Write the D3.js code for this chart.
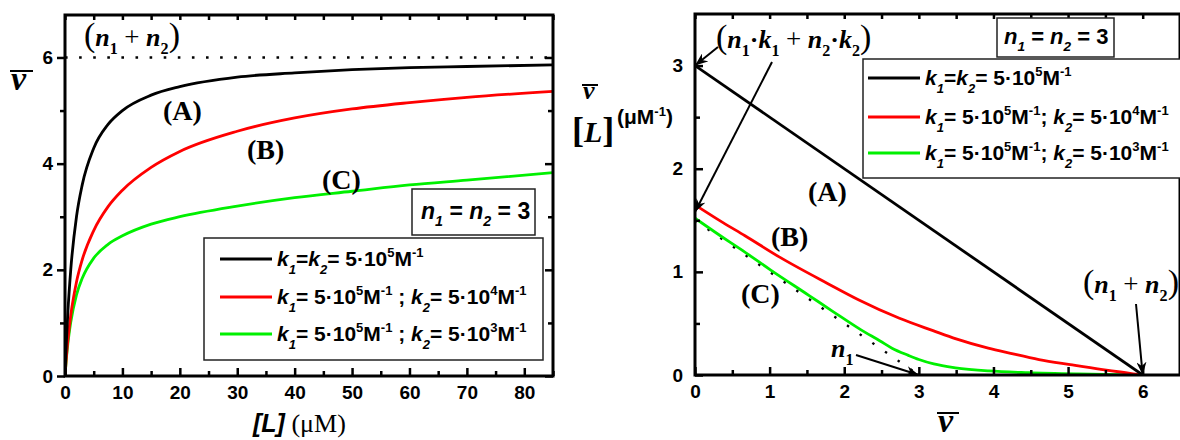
<!DOCTYPE html>
<html>
<head>
<meta charset="utf-8">
<script src="https://cdn.jsdelivr.net/npm/d3@7"></script>
<style>
body{margin:0;background:#fff;}
svg{display:block;}
text{white-space:pre;}
</style>
</head>
<body>
<svg id="chart" width="1180" height="440"></svg>
<script>
// left panel: mean number of bound ligands vs free ligand [L] (uM)
var conc = [0,0.25,0.5,1,2,3,5,7.5,10,15,20,30,40,50,60,70,85];
var satA = [0,0.67,1.2,2.0,3.0,3.6,4.29,4.74,5.0,5.29,5.45,5.63,5.71,5.77,5.81,5.83,5.86];
var satB = [0,0.37,0.67,1.14,1.77,2.19,2.74,3.19,3.5,3.93,4.23,4.61,4.86,5.03,5.15,5.25,5.36];
var satC = [0,0.34,0.61,1.01,1.53,1.84,2.22,2.48,2.64,2.86,3.0,3.2,3.36,3.48,3.6,3.69,3.83];
var satMax = 6;

// right panel: scatchard plot, nu/[L] vs nu
var scatA_nu = [0,6];
var scatA_r = [3,0];
var scatB_nu = [0,0.37,0.67,1.14,1.77,2.19,2.74,3.19,3.5,3.93,4.23,4.61,5.03,5.44,5.70,5.87,6];
var scatB_r = [1.65,1.48,1.35,1.14,0.89,0.73,0.55,0.43,0.35,0.26,0.21,0.15,0.10,0.054,0.029,0.012,0];
var scatC_nu = [0,0.34,0.61,1.01,1.53,1.84,2.22,2.48,2.64,2.86,3.0,3.2,3.49,3.94,4.47,5.13,5.49,5.81,6];
var scatC_r = [1.52,1.35,1.22,1.02,0.77,0.62,0.44,0.33,0.26,0.19,0.15,0.107,0.070,0.039,0.022,0.010,0.0055,0.0019,0];
var site1_nu = [0,3];
var site1_r = [1.5,0];

var xTicksL = [0,10,20,30,40,50,60,70,80];
var yTicksL = [0,2,4,6];
var xTicksR = [0,1,2,3,4,5,6];
var yTicksR = [0,1,2,3];

var colors = {A:'#000000', B:'#ff0000', C:'#00f000'};

var SANS = '"Liberation Sans", Arial, sans-serif';
var SERIF = '"Liberation Serif", "Times New Roman", serif';
var fmt = d3.format('d');

var svg = d3.select('#chart');

var defs = svg.append('defs');
defs.append('marker').attr('id','arr')
	.attr('markerUnits','userSpaceOnUse')
	.attr('markerWidth',14).attr('markerHeight',10)
	.attr('refX',13).attr('refY',5).attr('orient','auto')
	.append('path').attr('d','M0,0 L13,5 L0,10 L4,5 Z').attr('fill','#000');

// rich text with italic / sub / sup parts
function rich(g, x, y, parts, o){
	var t = g.append('text').attr('x',x).attr('y',y)
		.attr('font-family',o.f).attr('font-size',o.s)
		.attr('font-weight',o.w||'bold');
	var shift = 0;
	parts.forEach(function(p){
		if(typeof p==='string') p={t:p};
		var fs = p.fs || ((p.d||p.u) ? o.s*0.62 : o.s);
		var target = p.d ? o.s*(o.sub||0.33) : (p.u ? -o.s*(o.sup||0.42) : 0);
		var sp = t.append('tspan').attr('dy',target-shift).attr('font-size',fs).text(p.t);
		shift = target;
		if(p.i) sp.attr('font-style','italic');
		if(p.w) sp.attr('font-weight',p.w);
		if(p.f) sp.attr('font-family',p.f);
	});
	return t;
}

function pairs(xs, ys){ return xs.map(function(v,i){ return [v, ys[i]]; }); }

function frame(g, x, y){
	var xr = x.range(), yr = y.range();
	g.append('rect')
		.attr('x',xr[0]).attr('y',yr[1])
		.attr('width',xr[1]-xr[0]).attr('height',yr[0]-yr[1])
		.attr('fill','none').attr('stroke','#000').attr('stroke-width',3);
}

function styleAxis(a){
	a.select('.domain').remove();
	a.selectAll('line').attr('stroke','#000').attr('stroke-width',2.5);
	a.selectAll('text').attr('font-family',SANS).attr('font-weight','bold')
		.attr('font-size',19).attr('fill','#000');
}

function ticksOnly(a){ a.selectAll('text').remove(); }

function range(a,b,step){ var r=[]; for(var v=a; v<=b+1e-9; v+=step) r.push(+v.toFixed(3)); return r; }

// ---------------- left panel ----------------
var xL = d3.scaleLinear().domain([0,85]).range([65,553]);
var yL = d3.scaleLinear().domain([0,6.8]).range([376,15]);
var gL = svg.append('g');

defs.append('clipPath').attr('id','clipL').append('rect')
	.attr('x',65).attr('y',15).attr('width',488).attr('height',361);

// dotted saturation level
gL.append('line')
	.attr('x1',xL(0)).attr('x2',xL(85)).attr('y1',yL(satMax)).attr('y2',yL(satMax))
	.attr('stroke','#000').attr('stroke-width',2.6).attr('stroke-dasharray','2.6 11.5');

var lineL = d3.line().x(function(d){return xL(d[0]);}).y(function(d){return yL(d[1]);})
	.curve(d3.curveMonotoneX);
[[satC,colors.C],[satB,colors.B],[satA,colors.A]].forEach(function(s){
	gL.append('path').datum(pairs(conc,s[0]))
		.attr('clip-path','url(#clipL)')
		.attr('d',lineL).attr('fill','none').attr('stroke',s[1]).attr('stroke-width',2.8);
});

var axB = gL.append('g').attr('transform','translate(0,376)')
	.call(d3.axisBottom(xL).tickValues(xTicksL).tickFormat(fmt).tickSize(-8).tickPadding(10));
styleAxis(axB);
var axBm = gL.append('g').attr('transform','translate(0,376)')
	.call(d3.axisBottom(xL).tickValues(range(5,85,10)).tickSize(-5));
styleAxis(axBm); ticksOnly(axBm);
var axT = gL.append('g').attr('transform','translate(0,15)')
	.call(d3.axisTop(xL).tickValues(range(0,85,5)).tickSize(-5));
styleAxis(axT); ticksOnly(axT);
var axLf = gL.append('g').attr('transform','translate(65,0)')
	.call(d3.axisLeft(yL).tickValues(yTicksL).tickFormat(fmt).tickSize(8).tickPadding(4));
styleAxis(axLf);
var axLfm = gL.append('g').attr('transform','translate(65,0)')
	.call(d3.axisLeft(yL).tickValues([1,3,5]).tickSize(5));
styleAxis(axLfm); ticksOnly(axLfm);
var axRt = gL.append('g').attr('transform','translate(553,0)')
	.call(d3.axisRight(yL).tickValues(yTicksL).tickSize(-8));
styleAxis(axRt); ticksOnly(axRt);
var axRtm = gL.append('g').attr('transform','translate(553,0)')
	.call(d3.axisRight(yL).tickValues([1,3,5]).tickSize(-5));
styleAxis(axRtm); ticksOnly(axRtm);
frame(gL, xL, yL);

// axis titles
gL.append('text').attr('x',11).attr('y',90)
	.attr('font-family',SERIF).attr('font-weight','bold').attr('font-style','italic')
	.attr('font-size',34).text('ν');
gL.append('line').attr('x1',10).attr('x2',33).attr('y1',71).attr('y2',71)
	.attr('stroke','#000').attr('stroke-width',2);
rich(gL, 253, 432, [{t:'[L]',i:1},{t:' (μM)',f:SERIF,w:'normal',fs:26}], {f:SANS,s:25});

// annotations
var serifOpt = {f:SERIF, s:26, sub:0.3};
function sumLabel(g, x, y){
	rich(g, x, y, [{t:'(',fs:34,w:'normal'},{t:'n',i:1},{t:'1',d:1},' ',{t:'+',w:'normal',fs:27},' ',
		{t:'n',i:1},{t:'2',d:1},{t:')',fs:34,w:'normal'}], serifOpt);
}
sumLabel(gL, 84, 46);
rich(gL, 163, 120, ['(A)'], {f:SERIF,s:28});
rich(gL, 247, 159, ['(B)'], {f:SERIF,s:28});
rich(gL, 322, 189, ['(C)'], {f:SERIF,s:28});

gL.append('rect').attr('x',412).attr('y',189).attr('width',123).attr('height',46)
	.attr('fill','#fff').attr('stroke','#222').attr('stroke-width',1.5);
rich(gL, 421, 219, [{t:'n',i:1},{t:'1',i:1,d:1},' = ',{t:'n',i:1},{t:'2',i:1,d:1},' = 3'], {f:SANS,s:23,sub:0.3});

// legend
var legendRows = [
	{c:colors.A, parts:[{t:'k',i:1},{t:'1',i:1,d:1},'=',{t:'k',i:1},{t:'2',i:1,d:1},'= 5·10',{t:'5',u:1},'M',{t:'-1',u:1}]},
	{c:colors.B, parts:[{t:'k',i:1},{t:'1',i:1,d:1},'= 5·10',{t:'5',u:1},'M',{t:'-1',u:1},' ; ',{t:'k',i:1},{t:'2',i:1,d:1},'= 5·10',{t:'4',u:1},'M',{t:'-1',u:1}]},
	{c:colors.C, parts:[{t:'k',i:1},{t:'1',i:1,d:1},'= 5·10',{t:'5',u:1},'M',{t:'-1',u:1},' ; ',{t:'k',i:1},{t:'2',i:1,d:1},'= 5·10',{t:'3',u:1},'M',{t:'-1',u:1}]}
];
function legend(g, bx, by, bw, bh, lx, ys, semi){
	g.append('rect').attr('x',bx).attr('y',by).attr('width',bw).attr('height',bh)
		.attr('fill','#fff').attr('stroke','#222').attr('stroke-width',1.5);
	legendRows.forEach(function(r,i){
		g.append('line').attr('x1',lx).attr('x2',lx+52).attr('y1',ys[i]).attr('y2',ys[i])
			.attr('stroke',r.c).attr('stroke-width',2.8);
		var parts = r.parts.map(function(p){ return (semi && p===' ; ') ? '; ' : p; });
		rich(g, lx+57, ys[i]+7, parts, {f:SANS,s:21,sub:0.38,sup:0.45});
	});
}
legend(gL, 204, 238, 339, 122, 220, [259,297,334], false);

// ---------------- right panel ----------------
var xR = d3.scaleLinear().domain([0,6.5]).range([695,1180]);
var yR = d3.scaleLinear().domain([0,3.5]).range([375,14]);
var gR = svg.append('g');
defs.append('clipPath').attr('id','clipR').append('rect')
	.attr('x',695).attr('y',14).attr('width',485).attr('height',361);

gR.append('line')
	.attr('x1',xR(site1_nu[0])).attr('y1',yR(site1_r[0]))
	.attr('x2',xR(site1_nu[1])).attr('y2',yR(site1_r[1]))
	.attr('stroke','#000').attr('stroke-width',2.4).attr('stroke-dasharray','2.4 13');

var lineR = d3.line().x(function(d){return xR(d[0]);}).y(function(d){return yR(d[1]);})
	.curve(d3.curveMonotoneX);
[[scatC_nu,scatC_r,colors.C],[scatB_nu,scatB_r,colors.B],[scatA_nu,scatA_r,colors.A]].forEach(function(s){
	gR.append('path').datum(pairs(s[0],s[1]))
		.attr('clip-path','url(#clipR)')
		.attr('d',lineR).attr('fill','none').attr('stroke',s[2]).attr('stroke-width',2.8);
});

var rB = gR.append('g').attr('transform','translate(0,375)')
	.call(d3.axisBottom(xR).tickValues(xTicksR).tickFormat(fmt).tickSize(-8).tickPadding(10));
styleAxis(rB);
var rBm = gR.append('g').attr('transform','translate(0,375)')
	.call(d3.axisBottom(xR).tickValues(range(0.5,6.5,1)).tickSize(-5));
styleAxis(rBm); ticksOnly(rBm);
var rT = gR.append('g').attr('transform','translate(0,14)')
	.call(d3.axisTop(xR).tickValues(range(0,6.5,0.5)).tickSize(-5));
styleAxis(rT); ticksOnly(rT);
var rL = gR.append('g').attr('transform','translate(695,0)')
	.call(d3.axisLeft(yR).tickValues(yTicksR).tickFormat(fmt).tickSize(-8).tickPadding(12));
styleAxis(rL);
var rLm = gR.append('g').attr('transform','translate(695,0)')
	.call(d3.axisLeft(yR).tickValues([0.5,1.5,2.5]).tickSize(-5));
styleAxis(rLm); ticksOnly(rLm);
frame(gR, xR, yR);

// axis titles
gR.append('text').attr('x',938).attr('y',432)
	.attr('font-family',SERIF).attr('font-weight','bold').attr('font-style','italic')
	.attr('font-size',34).text('ν');
gR.append('line').attr('x1',937).attr('x2',959).attr('y1',413).attr('y2',413)
	.attr('stroke','#000').attr('stroke-width',2);

gR.append('text').attr('x',583).attr('y',99)
	.attr('font-family',SERIF).attr('font-weight','bold').attr('font-style','italic')
	.attr('font-size',26).text('ν');
gR.append('line').attr('x1',582).attr('x2',598).attr('y1',85).attr('y2',85)
	.attr('stroke','#000').attr('stroke-width',2);
rich(gR, 572, 142, [{t:'[',fs:36},{t:'L',i:1},{t:']',fs:36}], {f:SERIF,s:30});
rich(gR, 617, 124, ['(μM',{t:'-1',u:1},')'], {f:SANS,s:21,sup:0.4});

// annotations
rich(gR, 716, 48, [{t:'(',fs:34,w:'normal'},{t:'n',i:1},{t:'1',d:1},'·',{t:'k',i:1},{t:'1',d:1},' ',
	{t:'+',w:'normal',fs:27},' ',{t:'n',i:1},{t:'2',d:1},'·',{t:'k',i:1},{t:'2',d:1},{t:')',fs:34,w:'normal'}], serifOpt);
sumLabel(gR, 1083, 293);
rich(gR, 831, 357, [{t:'n',i:1},{t:'1',d:1}], serifOpt);
rich(gR, 808, 201, ['(A)'], {f:SERIF,s:28});
rich(gR, 771, 246, ['(B)'], {f:SERIF,s:28});
rich(gR, 741, 303, ['(C)'], {f:SERIF,s:28});

var arrows = [
	{from:[718,47], to:[xR(0),yR(3)]},
	{from:[772,62], to:[xR(0),yR(1.58)]},
	{from:[856,355], to:[xR(3),yR(0)]},
	{from:[1136,304], to:[xR(6),yR(0)]}
];
arrows.forEach(function(a){
	gR.append('line').attr('x1',a.from[0]).attr('y1',a.from[1])
		.attr('x2',a.to[0]).attr('y2',a.to[1])
		.attr('stroke','#000').attr('stroke-width',2).attr('marker-end','url(#arr)');
});

gR.append('rect').attr('x',997).attr('y',18).attr('width',117).attr('height',39)
	.attr('fill','#fff').attr('stroke','#222').attr('stroke-width',1.5);
rich(gR, 1004, 44, [{t:'n',i:1},{t:'1',i:1,d:1},' = ',{t:'n',i:1},{t:'2',i:1,d:1},' = 3'], {f:SANS,s:22,sub:0.3});

legend(gR, 863, 59, 330, 119, 868, [78,117,153], true);
</script>
</body>
</html>
